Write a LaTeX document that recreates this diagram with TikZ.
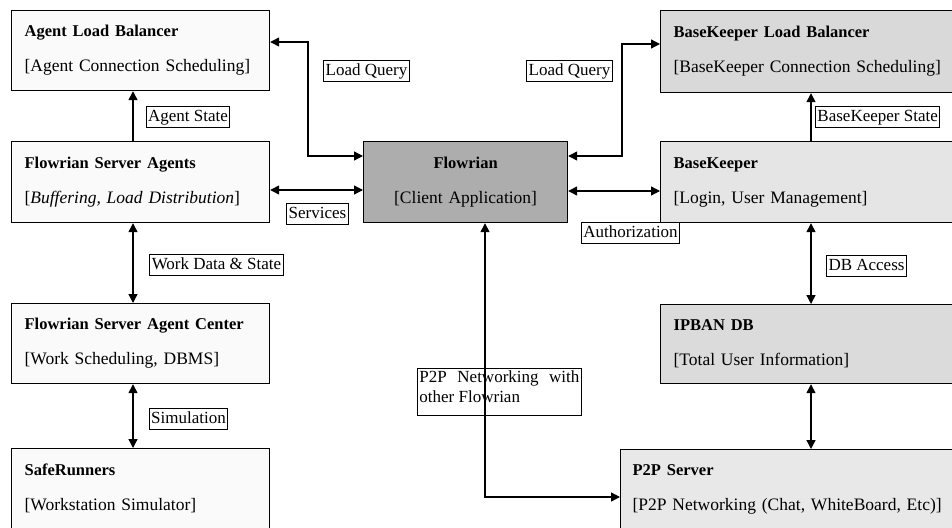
\documentclass[tikz,border=0pt]{standalone}
\usepackage{fontspec}
\setmainfont{Liberation Serif}
\usetikzlibrary{arrows.meta,calc}
\begin{document}
\begin{tikzpicture}[x=1pt,y=-1pt,
  >={Triangle[length=9pt,width=9pt]},
  blk/.style={draw=black, line width=1.2pt, rectangle, inner xsep=13pt, inner ysep=0pt,
    align=left, anchor=north west, font=\fontsize{17.5}{35}\selectfont},
  ctr/.style={blk, align=center},
  lab/.style={draw=black, line width=0.9pt, fill=white, rectangle, inner xsep=2pt, inner ysep=2pt,
    text height=13pt, text depth=4pt, font=\fontsize{17}{20}\selectfont},
  conn/.style={line width=1.3pt}
]
\newcommand\ttlfont{\fontsize{16.5}{35}\selectfont\bfseries}
\clip (0,0) rectangle (952,527);
\fill[white] (0,0) rectangle (952,527);

% ---- left column
\node[blk, fill=black!2, minimum height=80pt, text width=232pt] (alb) at (11,10)
  {{\ttlfont Agent Load Balancer}\\ {[Agent Connection Scheduling]}};
\node[blk, fill=black!2, minimum height=81pt, text width=232pt] (fsa) at (11,141)
  {{\ttlfont Flowrian Server Agents}\\ {[\textit{Buffering, Load Distribution}]}};
\node[blk, fill=black!2, minimum height=80pt, text width=232pt] (fsac) at (11,303)
  {{\ttlfont Flowrian Server Agent Center}\\ {[Work Scheduling, DBMS]}};
\node[blk, fill=black!2, minimum height=80pt, text width=232pt] (safe) at (11,448)
  {{\ttlfont SafeRunners}\\ {[Workstation Simulator]}};

% ---- centre
\node[ctr, fill=black!32, minimum height=81pt, text width=178pt, inner xsep=13pt] (flow) at (363,141)
  {{\ttlfont Flowrian}\\ {[Client Application]}};

% ---- right column
\node[blk, fill=black!15, minimum height=82pt, text width=360pt] (bklb) at (660,10)
  {{\ttlfont BaseKeeper Load Balancer}\\ {[BaseKeeper Connection Scheduling]}};
\node[blk, fill=black!10, minimum height=81pt, text width=360pt] (bk) at (660,141)
  {{\ttlfont BaseKeeper}\\ {[Login, User Management]}};
\node[blk, fill=black!14, minimum height=79pt, text width=360pt] (ipban) at (660,304)
  {{\ttlfont IPBAN DB}\\ {[Total User Information]}};
\node[blk, fill=black!9, minimum height=80pt, text width=400pt, inner xsep=12pt] (p2p) at (620,449)
  {{\ttlfont P2P Server}\\ {[P2P Networking (Chat, WhiteBoard, Etc)]}};

% ---- helper coordinates
\coordinate (xl) at (133,0);
\coordinate (xr) at (811,0);
\coordinate (xp) at (485,0);
\coordinate (yq1) at (0,42);
\coordinate (yq2) at (0,156);
\coordinate (yq3) at (0,44);
\coordinate (ys) at (0,190);
\coordinate (ya) at (0,191);
\coordinate (yp) at (0,497);
\coordinate (cql) at (308,100);
\coordinate (cqr) at (622,100);

% ---- connectors
\draw[conn,->] (xl |- fsa.north) -- (xl |- alb.south);
\draw[conn,<->] (xl |- fsa.south) -- (xl |- fsac.north);
\draw[conn,<->] (xl |- fsac.south) -- (xl |- safe.north);
\draw[conn,<->] (alb.east |- yq1) -| (cql) |- (flow.west |- yq2);
\draw[conn,<->] (fsa.east |- ys) -- (flow.west |- ys);
\draw[conn,<->] (flow.east |- yq2) -| (cqr) |- (bklb.west |- yq3);
\draw[conn,<->] (flow.east |- ya) -- (bk.west |- ya);
\draw[conn,->] (xr |- bk.north) -- (xr |- bklb.south);
\draw[conn,<->] (xr |- bk.south) -- (xr |- ipban.north);
\draw[conn,<->] (xr |- ipban.south) -- (xr |- p2p.north);

% ---- labels
\node[lab] (lAS) at (188,116.5) {Agent State};
\node[lab] (lWD) at (216.5,264.5) {Work Data \& State};
\node[lab] (lSim) at (188.5,419) {Simulation};
\node[lab] (lLQ1) at (366.5,70.5) {Load Query};
\node[lab] (lSv) at (317.5,213.5) {Services};
\node[lab] (lLQ2) at (569.5,70.5) {Load Query};
\node[lab] (lAu) at (630.5,233) {Authorization};
\node[lab, anchor=west] (lBS) at (815,117) {BaseKeeper State};
\node[lab] (lDB) at (866.5,266) {DB Access};
\node[draw=black, line width=0.9pt, fill=white, inner sep=2pt, anchor=north west,
  font=\fontsize{17}{20}\selectfont] (lP2P) at (417,368)
  {\parbox[t][43pt][t]{160pt}{P2P Networking with other Flowrian}};

\draw[conn,<->] (xp |- flow.south) |- (p2p.west |- yp);
\end{tikzpicture}
\end{document}
